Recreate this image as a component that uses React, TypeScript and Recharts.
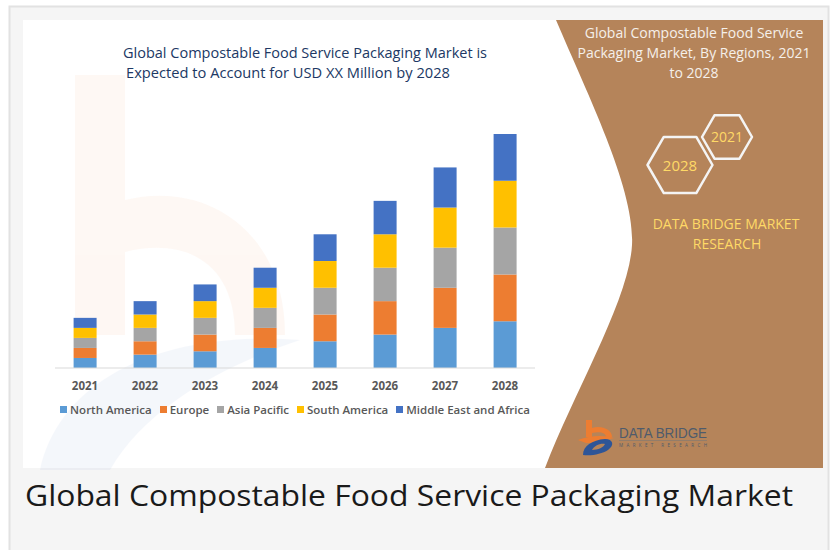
import React from 'react';
import { BarChart, Bar, XAxis, YAxis, Legend } from 'recharts';

const years = ['2021', '2022', '2023', '2024', '2025', '2026', '2027', '2028'];
const northAmerica = [3, 4, 5, 6, 8, 10, 12, 14];
const europe = [3, 4, 5, 6, 8, 10, 12, 14];
const asiaPacific = [3, 4, 5, 6, 8, 10, 12, 14];
const southAmerica = [3, 4, 5, 6, 8, 10, 12, 14];
const middleEastAfrica = [3, 4, 5, 6, 8, 10, 12, 14];

const series = [
  { key: 'na', name: 'North America', color: '#5b9bd5', values: northAmerica },
  { key: 'eu', name: 'Europe', color: '#ed7d31', values: europe },
  { key: 'ap', name: 'Asia Pacific', color: '#a5a5a5', values: asiaPacific },
  { key: 'sa', name: 'South America', color: '#ffc000', values: southAmerica },
  { key: 'mea', name: 'Middle East and Africa', color: '#4472c4', values: middleEastAfrica },
];

const data = years.map((year, i) => {
  const row: Record<string, string | number> = { year };
  series.forEach((s) => {
    row[s.key] = s.values[i];
  });
  return row;
});

const FONT = '"Open Sans", "DejaVu Sans", sans-serif';

// hexagon with points to the left and right
function hexPath(cx: number, cy: number, r: number) {
  const pts = [0, 60, 120, 180, 240, 300].map((deg) => {
    const a = (deg * Math.PI) / 180;
    return `${(cx + r * Math.cos(a)).toFixed(1)},${(cy + r * Math.sin(a)).toFixed(1)}`;
  });
  return `M${pts.join('L')}Z`;
}

function LegendRow() {
  return (
    <div style={{ display: 'flex', justifyContent: 'center', gap: 8, fontFamily: FONT, fontSize: 11.5, fontWeight: 600, color: '#595959' }}>
      {series.map((s) => (
        <div key={s.key} style={{ display: 'flex', alignItems: 'center', whiteSpace: 'nowrap' }}>
          <span style={{ display: 'inline-block', width: 7, height: 7, background: s.color, marginRight: 3 }} />
          {s.name}
        </div>
      ))}
    </div>
  );
}

function Backdrop() {
  return (
    <svg width={838} height={550} style={{ position: 'absolute', left: 0, top: 0 }}>
      <rect x={0} y={0} width={838} height={550} fill="#ffffff" />
      <rect x={9.5} y={6.5} width={819} height={560} fill="#f5f5f5" stroke="#e2e2e2" strokeWidth={2} />
      <rect x={23} y={20} width={800} height={448} fill="#ffffff" />

      {/* faint logo watermark */}
      <g opacity={0.05}>
        <path d="M75,75 L125,75 L125,200 C205,180 285,230 285,335 L235,335 C235,262 185,237 125,252 L125,335 L75,335 Z" fill="#ed7d31" />
        <path d="M40,470 C60,380 160,330 300,340 C240,360 150,400 110,470 Z" fill="#4472c4" />
      </g>

      {/* brown side panel */}
      <path d="M556,20 L823,20 L823,468 L545,468 C575,390 629,300 632,245 C635,190 590,100 556,20 Z" fill="#b5845a" />

      {/* chart title */}
      <text x={123} y={58} fontFamily={FONT} fontSize={14} fill="#203864" textLength={364} lengthAdjust="spacingAndGlyphs">
        Global Compostable Food Service Packaging Market is
      </text>
      <text x={126} y={78} fontFamily={FONT} fontSize={14} fill="#203864" textLength={324} lengthAdjust="spacingAndGlyphs">
        Expected to Account for USD XX Million by 2028
      </text>

      {/* panel texts */}
      <g fontFamily={FONT} fontSize={14} fill="#f5f0ea" textAnchor="middle">
        <text x={694} y={38}>Global Compostable Food Service</text>
        <text x={694} y={58}>Packaging Market, By Regions, 2021</text>
        <text x={694} y={78}>to 2028</text>
      </g>

      <path d={hexPath(680, 165, 32.5)} fill="none" stroke="#f4f4f4" strokeWidth={2.5} strokeLinejoin="round" />
      <path d={hexPath(727, 137, 25)} fill="none" stroke="#f4f4f4" strokeWidth={2.5} strokeLinejoin="round" />
      <g fontFamily={FONT} fill="#ffd966" textAnchor="middle">
        <text x={727} y={142} fontSize={14}>2021</text>
        <text x={680} y={170.5} fontSize={15}>2028</text>
        <text x={726} y={229} fontSize={14}>DATA BRIDGE MARKET</text>
        <text x={727} y={249} fontSize={14}>RESEARCH</text>
      </g>

      {/* logo */}
      <g>
        <path d="M586,420 L592,420 L592,428 C602,425 612,430 612,437 L606,437 C606,433 600,431 592,433 L592,437 L586,437 Z" fill="#ed7d31" />
        <path d="M578,440 C590,435 605,435 614,438 L606,440 C600,440 596,441 594,443 L586,443 Z" fill="#ed7d31" />
        <path d="M583,455 C583,446 592,440 605,439 C613,439 615,445 608,450 C602,454 592,456 583,455 Z M592,450 C598,450 604,447 605,444 C600,443 594,446 592,450 Z" fill="#2e5597" fillRule="evenodd" />
        <text x={619} y={438} fontFamily='"Liberation Sans Narrow", "Liberation Sans", sans-serif' fontSize={15} fill="#4f5b6b" textLength={88} lengthAdjust="spacingAndGlyphs">
          DATA BRIDGE
        </text>
        <line x1={619} y1={440.5} x2={707} y2={440.5} stroke="#8a7b6e" strokeWidth={0.8} />
        <text x={619} y={446.5} fontFamily={FONT} fontSize={4.5} fill="#4f5b6b" textLength={88} lengthAdjust="spacing">
          MARKET RESEARCH
        </text>
      </g>

      {/* page heading under the image */}
      <text x={25} y={506} fontFamily={FONT} fontSize={29} fill="#1a1a1a" textLength={768} lengthAdjust="spacingAndGlyphs">
        Global Compostable Food Service Packaging Market
      </text>
    </svg>
  );
}

export default function App() {
  return (
    <div style={{ position: 'absolute', left: 0, top: 0, width: 838, height: 550, overflow: 'hidden' }}>
      <Backdrop />
      <div style={{ position: 'absolute', left: 40, top: 100 }}>
        <BarChart
          width={510}
          height={330}
          data={data}
          margin={{ top: 34, right: 15, left: 15, bottom: 32 }}
          barCategoryGap="31%"
        >
          <XAxis
            dataKey="year"
            axisLine={{ stroke: '#d9d9d9' }}
            tickLine={false}
            tickSize={6}
            tickMargin={8}
            tick={{ fontSize: 11.5, fontWeight: 700, fill: '#595959', fontFamily: FONT }}
          />
          <YAxis hide domain={[0, 70]} />
          <Legend
            layout="horizontal"
            verticalAlign="middle"
            align="center"
            content={() => <LegendRow />}
            wrapperStyle={{ top: 302, left: 0, width: 510 }}
          />
          {series.map((s) => (
            <Bar key={s.key} dataKey={s.key} name={s.name} stackId="a" fill={s.color} isAnimationActive={false} />
          ))}
        </BarChart>
      </div>
    </div>
  );
}
